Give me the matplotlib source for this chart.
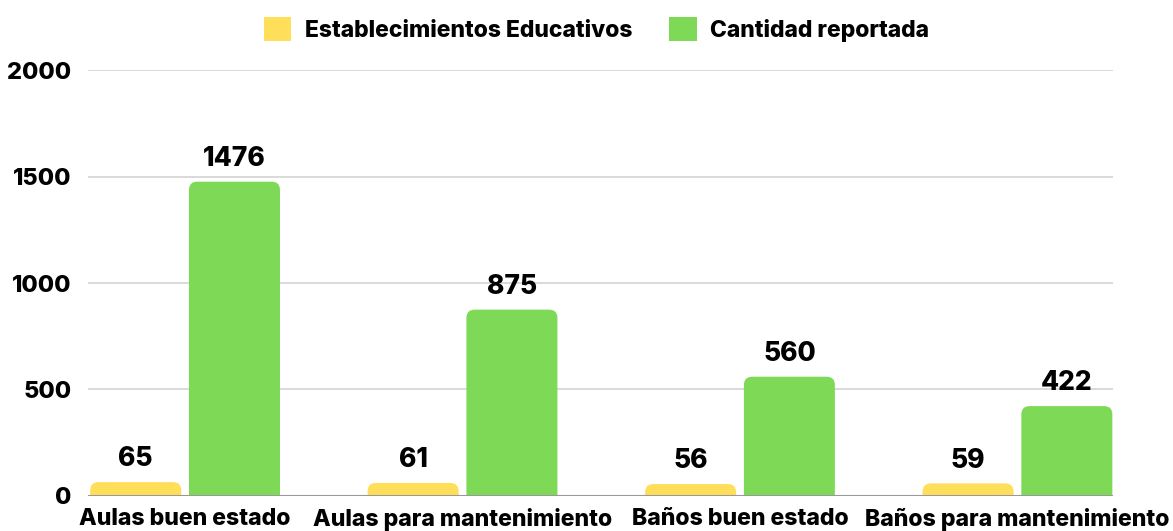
import matplotlib.pyplot as plt
from matplotlib.patches import FancyBboxPatch, Patch

plt.rcParams["font.family"] = ["Inter", "DejaVu Sans"]
plt.rcParams["font.weight"] = "bold"

categorias = ["Aulas buen estado", "Aulas para mantenimiento",
              "Baños buen estado", "Baños para mantenimiento"]
establecimientos = [65, 61, 56, 59]
cantidad = [1476, 875, 560, 422]
series = ["Establecimientos Educativos", "Cantidad reportada"]
colores = ["#FFDE59", "#7ED957"]

fig = plt.figure(figsize=(11.73, 5.31), dpi=100)
ax = fig.add_axes([0.075, 0.066, 0.874, 0.802])

ancho = 0.328
desp = 0.178
x = range(len(categorias))

# barras con esquinas superiores redondeadas
for datos, color, d in [(establecimientos, colores[0], -desp), (cantidad, colores[1], desp)]:
    for i, v in zip(x, datos):
        caja = FancyBboxPatch((i + d - ancho / 2, -100), ancho, v + 100,
                              boxstyle="round,pad=0,rounding_size=0.03",
                              mutation_aspect=1300, facecolor=color,
                              edgecolor="none", zorder=3)
        ax.add_patch(caja)
        ax.annotate(str(v), (i + d, v), xytext=(0, 7), textcoords="offset points",
                    ha="center", va="bottom", fontsize=19, fontweight="heavy")

ax.set_xlim(-0.35, 3.345)
ax.set_ylim(0, 2000)
ax.set_yticks([0, 500, 1000, 1500, 2000])
ax.set_xticks(list(x))
ax.set_xticklabels(categorias, fontsize=16.6, fontweight="heavy")
ax.tick_params(axis="both", length=0)
ax.tick_params(axis="y", labelsize=17, pad=12)
ax.tick_params(axis="x", pad=9)
for t in ax.get_yticklabels():
    t.set_fontweight("heavy")

ax.grid(axis="y", color="#d3d3d3", linewidth=1.2, zorder=0)
ax.axhline(0, color="#999999", linewidth=1.5, zorder=4)
for s in ax.spines.values():
    s.set_visible(False)

handles = [Patch(facecolor=c, edgecolor="none") for c in colores]
fig.legend(handles, series, loc="upper center", bbox_to_anchor=(0.5085, 1.006),
           ncol=2, frameon=False, handlelength=1.2, handleheight=1.2,
           columnspacing=1.6, handletextpad=0.6,
           prop={"weight": "heavy", "size": 16.5})

fig.savefig("out.png", dpi=100)
